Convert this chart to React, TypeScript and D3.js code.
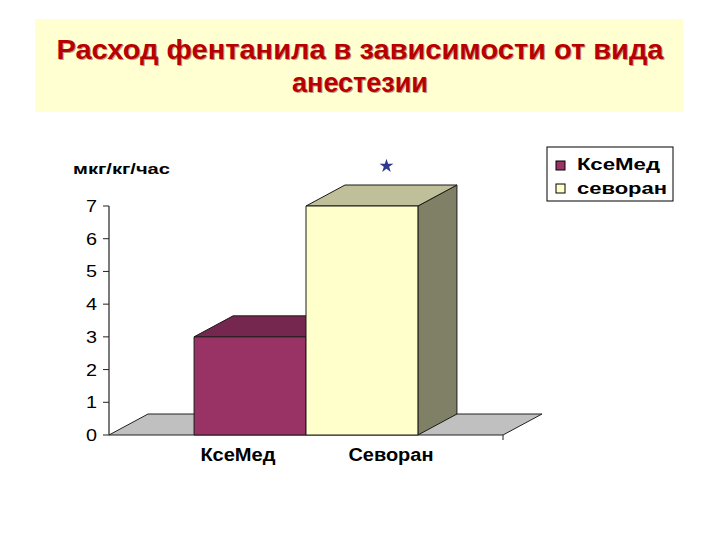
import React from "react";
import * as d3 from "d3";

const categories = ["КсеМед", "Севоран"];
const seriesNames = ["КсеМед", "севоран"];
const values = [3, 7];
const yTicks = [0, 1, 2, 3, 4, 5, 6, 7];
const titleLines = ["Расход фентанила в зависимости от вида", "анестезии"];
const yAxisTitle = "мкг/кг/час";
const frontColors = ["#993366", "#FFFFCC"];

const W = 720;
const H = 540;
const DX = 39;
const DY = -21;
const FONT = "'Liberation Sans', Arial, sans-serif";

function shade(c: string, k: number) {
  const col = d3.rgb(c);
  return d3.rgb(col.r * k, col.g * k, col.b * k).formatHex();
}

export default function App() {
  const y = d3.scaleLinear().domain([0, 7]).range([435, 206]);
  const x = d3
    .scaleBand<string>()
    .domain(categories)
    .range([109, 503])
    .paddingInner(0)
    .paddingOuter(0.76);
  const bw = x.bandwidth();
  const [x0, x1] = x.range();
  const y0 = y(0);

  const pts = (p: number[][]) => p.map((q) => q.join(",")).join(" ");

  const labelOffsets = [-12, 29];
  const labelLengths = [75, 85];

  const lastCat = categories[categories.length - 1];
  const starCx = (x(lastCat) as number) + bw / 2 + DX / 2 + 5;
  const starCy = y(values[values.length - 1]) + DY - 19;
  const star = d3.symbol().type(d3.symbolStar).size(60)();

  return (
    <svg
      width={W}
      height={H}
      viewBox={`0 0 ${W} ${H}`}
      style={{ position: "absolute", left: 0, top: 0, background: "#fff" }}
    >
      <rect x={0} y={0} width={W} height={H} fill="#fff" />
      {/* Title box */}
      <rect x={35} y={19} width={648} height={93} fill="#FFFFD2" />
      {titleLines.map((t, i) => (
        <g key={i}>
          <text
            x={360 + 1}
            y={59 + i * 33 + 1}
            textAnchor="middle"
            fontFamily={FONT}
            fontWeight="bold"
            fontSize={27}
            fill="#5a0000"
            opacity={0.4}
            textLength={i === 0 ? 607 : undefined}
            lengthAdjust="spacingAndGlyphs"
          >
            {t}
          </text>
          <text
            x={360}
            y={59 + i * 33}
            textAnchor="middle"
            fontFamily={FONT}
            fontWeight="bold"
            fontSize={27}
            fill="#B80000"
            textLength={i === 0 ? 607 : undefined}
            lengthAdjust="spacingAndGlyphs"
          >
            {t}
          </text>
        </g>
      ))}

      {/* Y axis title */}
      <text
        x={73}
        y={174}
        fontFamily={FONT}
        fontWeight="bold"
        fontSize={14}
        fill="#000"
        textLength={97}
        lengthAdjust="spacingAndGlyphs"
      >
        {yAxisTitle}
      </text>

      {/* Floor */}
      <polygon
        points={pts([
          [x0, y0],
          [x1, y0],
          [x1 + DX, y0 + DY],
          [x0 + DX, y0 + DY],
        ])}
        fill="#C0C0C0"
        stroke="#222"
        strokeWidth={1}
      />
      <line x1={x1} x2={x1} y1={y0} y2={y0 + 5} stroke="#222" />

      {/* Y axis */}
      <line x1={x0} x2={x0} y1={y(0)} y2={y(7)} stroke="#222" strokeWidth={1.2} />
      {yTicks.map((t) => (
        <g key={t}>
          <line x1={x0 - 6} x2={x0} y1={y(t)} y2={y(t)} stroke="#222" />
          <text
            x={97}
            y={y(t) + 6}
            textAnchor="end"
            fontFamily={FONT}
            fontSize={16}
            fill="#000"
            textLength={11}
            lengthAdjust="spacingAndGlyphs"
          >
            {t}
          </text>
        </g>
      ))}

      {/* Bars */}
      {categories.map((c, i) => {
        const bx = x(c) as number;
        const top = y(values[i]);
        const front = frontColors[i];
        return (
          <g key={c} stroke="#1a1a1a" strokeWidth={1} strokeLinejoin="round">
            <polygon
              points={pts([
                [bx + bw, top],
                [bx + bw + DX, top + DY],
                [bx + bw + DX, y0 + DY],
                [bx + bw, y0],
              ])}
              fill={shade(front, i === 0 ? 0.6 : 0.5)}
            />
            <polygon
              points={pts([
                [bx, top],
                [bx + bw, top],
                [bx + bw + DX, top + DY],
                [bx + DX, top + DY],
              ])}
              fill={shade(front, i === 0 ? 0.77 : 0.75)}
            />
            <rect x={bx} y={top} width={bw} height={y0 - top} fill={front} />
          </g>
        );
      })}

      {/* Category labels */}
      {categories.map((c, i) => (
        <text
          key={c}
          x={(x(c) as number) + bw / 2 + labelOffsets[i]}
          y={461}
          textAnchor="middle"
          fontFamily={FONT}
          fontWeight="bold"
          fontSize={18}
          fill="#000"
          textLength={labelLengths[i]}
          lengthAdjust="spacingAndGlyphs"
        >
          {c}
        </text>
      ))}

      {/* Star annotation */}
      <path d={star as string} transform={`translate(${starCx},${starCy})`} fill="#2E3B8C" />

      {/* Legend */}
      <rect x={547} y={147} width={126} height={54} fill="#fff" stroke="#000" strokeWidth={1} />
      {seriesNames.map((s, i) => (
        <g key={s}>
          <rect
            x={556}
            y={161 + i * 23}
            width={9}
            height={9}
            fill={frontColors[i]}
            stroke="#000"
            strokeWidth={1}
          />
          <text
            x={577}
            y={170 + i * 24}
            fontFamily={FONT}
            fontWeight="bold"
            fontSize={16}
            fill="#000"
            textLength={i === 0 ? 83 : 90}
            lengthAdjust="spacingAndGlyphs"
          >
            {s}
          </text>
        </g>
      ))}
    </svg>
  );
}
